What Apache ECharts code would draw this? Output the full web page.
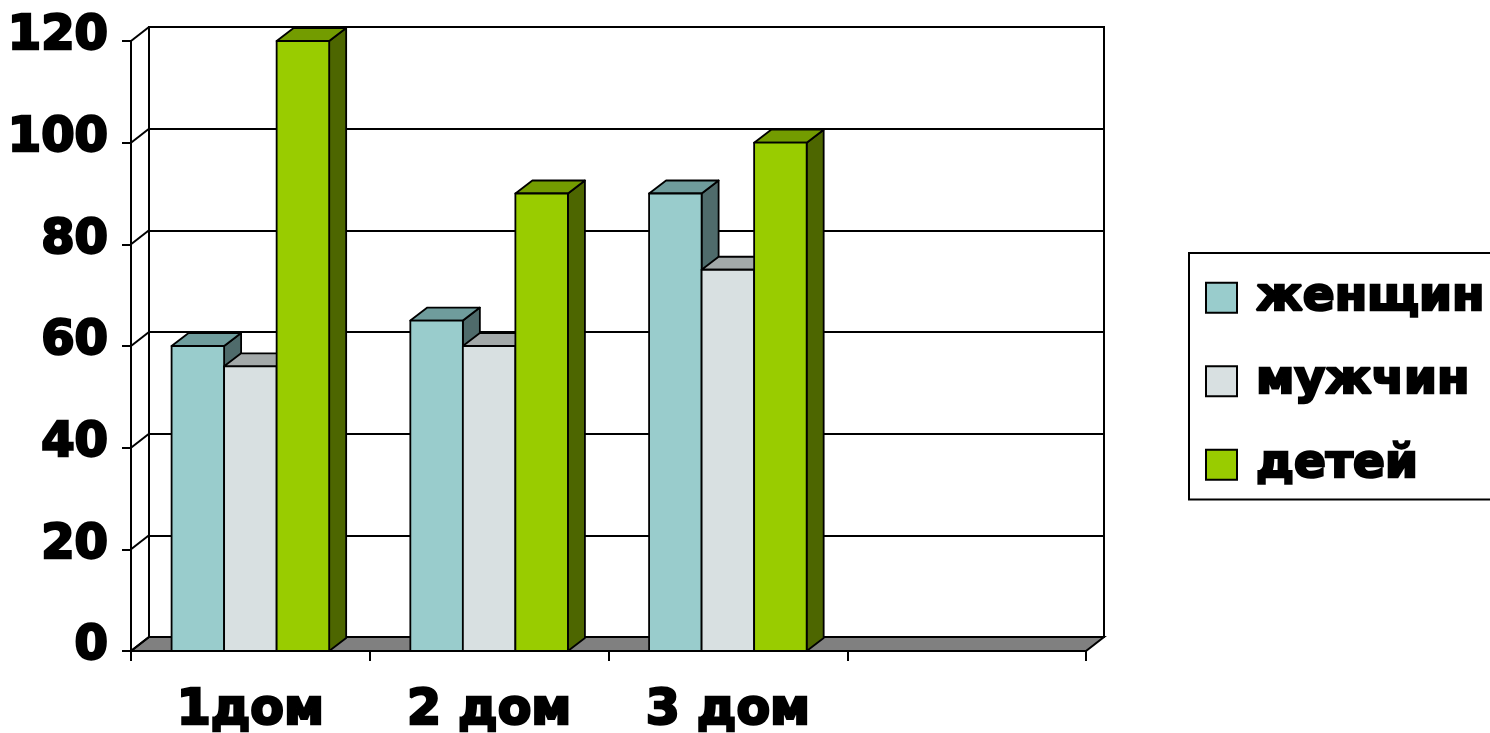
<!DOCTYPE html>
<html><head><meta charset="utf-8">
<script src="https://cdn.jsdelivr.net/npm/echarts@6/dist/echarts.min.js"></script>
<style>html,body{margin:0;padding:0;background:#fff}#c{width:1490px;height:733px}</style>
</head><body><div id="c"></div>
<script>
const categories = ['1дом', '2 дом', '3 дом', ''];
const seriesNames = ['женщин', 'мужчин', 'детей'];
const women = [60, 65, 90];
const men = [56, 60, 75];
const children = [120, 90, 100];
const yTicks = [0, 20, 40, 60, 80, 100, 120];

const palettes = [
  {front: '#99CCCC', top: '#6F9C9C', side: '#4F6B6B'},
  {front: '#D8E0E1', top: '#A3A9A9', side: '#7E8585'},
  {front: '#99CC00', top: '#739C00', side: '#4D6600'}
];
const BAR_DX = 17, BAR_DY = -13, WALL_DX = 18, WALL_DY = -14;
const fontBase = {fontFamily: 'DejaVu Sans', fontWeight: 'bold', color: '#000', textBorderColor: '#000', textBorderWidth: 2.5};

function barRender(s) {
  return function (params, api) {
    const cat = api.value(0), val = api.value(1);
    const c = api.coord([cat, val]);
    const b = api.coord([cat, 0]);
    const bw = api.size([1, 0])[0];
    const w = bw * 0.22;
    const x0 = c[0] - 1.5 * w + s * w, x1 = x0 + w;
    const p = palettes[s];
    const st = {stroke: '#000', lineWidth: 1.8, lineJoin: 'round'};
    return {type: 'group', children: [
      {type: 'polygon', shape: {points: [[x1, c[1]], [x1 + BAR_DX, c[1] + BAR_DY], [x1 + BAR_DX, b[1] + BAR_DY], [x1, b[1]]]}, style: Object.assign({fill: p.side}, st)},
      {type: 'polygon', shape: {points: [[x0, c[1]], [x0 + BAR_DX, c[1] + BAR_DY], [x1 + BAR_DX, c[1] + BAR_DY], [x1, c[1]]]}, style: Object.assign({fill: p.top}, st)},
      {type: 'rect', shape: {x: x0, y: c[1], width: w, height: b[1] - c[1]}, style: Object.assign({fill: p.front}, st)}
    ]};
  };
}

const chart = echarts.init(document.getElementById('c'), null, {renderer: 'canvas'});
const dataSets = [women, men, children];

chart.setOption({
  backgroundColor: '#fff',
  animation: false,
  grid: [
    {left: 131, top: 41, width: 955, height: 610, containLabel: false, outerBoundsMode: 'none'},
    {left: 131 + WALL_DX, top: 41 + WALL_DY, width: 955, height: 610, containLabel: false, outerBoundsMode: 'none',
     show: true, borderColor: '#000', borderWidth: 2, backgroundColor: '#fff'}
  ],
  xAxis: [
    {gridIndex: 0, type: 'category', data: categories, boundaryGap: true,
     axisLine: {show: true, lineStyle: {color: '#000', width: 2}},
     axisTick: {show: true, interval: 0, length: 10, lineStyle: {color: '#000', width: 2}},
     axisLabel: Object.assign({interval: 0, fontSize: 49, margin: 36}, fontBase)},
    {gridIndex: 1, type: 'category', data: categories, show: false}
  ],
  yAxis: [
    {gridIndex: 0, type: 'value', min: 0, max: 120, interval: 20,
     axisLine: {show: true, lineStyle: {color: '#000', width: 2}},
     axisTick: {show: true, length: 9, lineStyle: {color: '#000', width: 2}},
     splitLine: {show: false},
     axisLabel: Object.assign({fontSize: 48, margin: 23, verticalAlign: 'bottom', lineHeight: 8}, fontBase)},
    {gridIndex: 1, type: 'value', min: 0, max: 120, interval: 20,
     axisLine: {show: false}, axisTick: {show: false}, axisLabel: {show: false},
     splitLine: {show: true, lineStyle: {color: '#000', width: 2}}}
  ],
  legend: {
    orient: 'vertical', left: 1189, top: 253,
    padding: [20, 20, 10, 16],
    itemWidth: 31, itemHeight: 30, itemGap: 34,
    borderColor: '#000', borderWidth: 2, backgroundColor: '#fff',
    icon: 'rect',
    textStyle: Object.assign({fontSize: 47, padding: [0, 0, 0, 14]}, fontBase),
    data: seriesNames.map((n, i) => ({name: n, itemStyle: {color: palettes[i].front, borderColor: '#000', borderWidth: 2}}))
  },
  series: [
    {type: 'custom', name: 'floor', xAxisIndex: 0, yAxisIndex: 0, clip: false, silent: true, z: 1,
     data: [[0, 0]],
     renderItem: function (params, api) {
       const bw = api.size([1, 0])[0];
       const a = api.coord([0, 0]), e = api.coord([categories.length - 1, 0]);
       const l = a[0] - bw / 2, r = e[0] + bw / 2, y = a[1];
       return {type: 'polygon', shape: {points: [[l, y], [r, y], [r + WALL_DX, y + WALL_DY], [l + WALL_DX, y + WALL_DY]]},
               style: {fill: '#808080', stroke: '#000', lineWidth: 2}};
     }},
    {type: 'custom', name: 'wall', xAxisIndex: 0, yAxisIndex: 0, clip: false, silent: true, z: 1,
     data: yTicks.map(v => [0, v]),
     renderItem: function (params, api) {
       const bw = api.size([1, 0])[0];
       const p = api.coord([0, api.value(1)]);
       const l = p[0] - bw / 2;
       return {type: 'line', shape: {x1: l, y1: p[1], x2: l + WALL_DX, y2: p[1] + WALL_DY},
               style: {stroke: '#000', lineWidth: 2}};
     }}
  ].concat(seriesNames.map((n, s) => ({
    type: 'custom', name: n, xAxisIndex: 0, yAxisIndex: 0, clip: false, z: 3,
    itemStyle: {color: palettes[s].front},
    data: dataSets[s].map((v, i) => [i, v]),
    renderItem: barRender(s)
  })))
});
</script></body></html>
